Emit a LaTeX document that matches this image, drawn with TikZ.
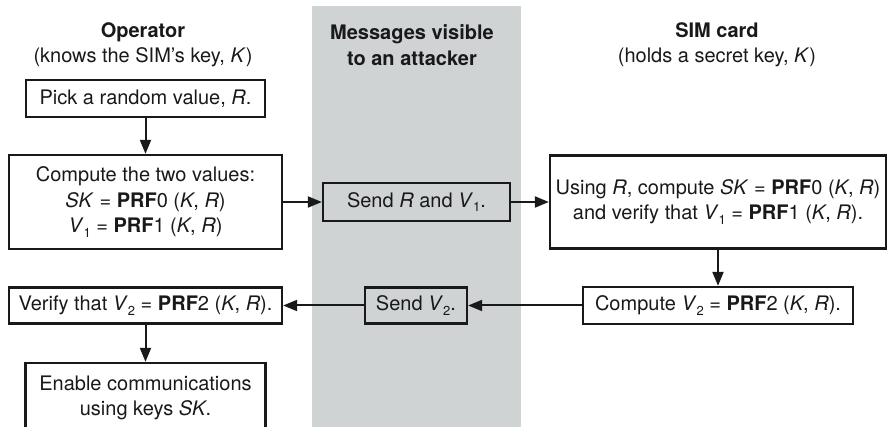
\documentclass[tikz,border=0pt]{standalone}
\usepackage{fontspec}
\setmainfont{TeX Gyre Heros}
\usetikzlibrary{arrows.meta}
\definecolor{band}{RGB}{207,211,212}
\definecolor{ink}{RGB}{25,25,25}
\newcommand{\subs}[1]{\raisebox{-0.45ex}{\fontsize{13}{13}\selectfont #1}}

\begin{document}
\begin{tikzpicture}[x=1pt,y=-1pt,
 txt/.style={align=center,text=ink,font=\fontsize{20}{25.5}\selectfont},
 box/.style={txt,draw=ink,line width=2.3pt,inner sep=0pt},
 arr/.style={draw=ink,line width=2pt,-{Triangle[length=14pt,width=11pt]}}]
 \clip (0,0) rectangle (888,427);
 \fill[band] (312,6) rectangle (521,427);
 \node[txt] (operator) at (143,45) {\textbf{Operator}\\(knows the SIM's key, \textit{K})};
 \node[txt] (attacker) at (412,45) {\textbf{Messages visible}\\\textbf{to an attacker}};
 \node[txt] (simcard) at (717,45) {\textbf{SIM card}\\(holds a secret key, \textit{K})};
 \node[box,minimum width=239pt,minimum height=37pt] (pick) at (145.5,98.5) {Pick a random value, \textit{R}.};
 \node[box,minimum width=273pt,minimum height=94pt] (compute) at (145.5,202) {Compute the two values:\\\textit{SK} = \textbf{PRF}0 (\textit{K}, \textit{R})\\\textit{V}\subs{1} = \textbf{PRF}1 (\textit{K}, \textit{R})};
 \node[box,fill=band,minimum width=187pt,minimum height=38pt] (sendR) at (416.5,202) {Send \textit{R} and \textit{V}\subs{1}.};
 \node[box,minimum width=336pt,minimum height=93pt] (using) at (718,202) {Using \textit{R}, compute \textit{SK} = \textbf{PRF}0 (\textit{K}, \textit{R})\\and verify that \textit{V}\subs{1} = \textbf{PRF}1 (\textit{K}, \textit{R}).};
 \node[box,minimum width=270pt,minimum height=37pt] (computeV) at (718,305.5) {Compute \textit{V}\subs{2} = \textbf{PRF}2 (\textit{K}, \textit{R}).};
 \node[box,fill=band,minimum width=102pt,minimum height=36pt] (sendV) at (416,305.5) {Send \textit{V}\subs{2}.};
 \node[box,minimum width=273pt,minimum height=36pt] (verify) at (145.5,305.5) {Verify that \textit{V}\subs{2} = \textbf{PRF}2 (\textit{K}, \textit{R}).};
 \node[box,minimum width=240pt,minimum height=70pt] (enable) at (145.5,398) {Enable communications\\using keys \textit{SK}.};
 \draw[arr] (pick) -- (compute);
 \draw[arr] (compute) -- (sendR);
 \draw[arr] (sendR) -- (using);
 \draw[arr] (using) -- (computeV);
 \draw[arr] (computeV) -- (sendV);
 \draw[arr] (sendV) -- (verify);
 \draw[arr] (verify) -- (enable);
\end{tikzpicture}
\end{document}
